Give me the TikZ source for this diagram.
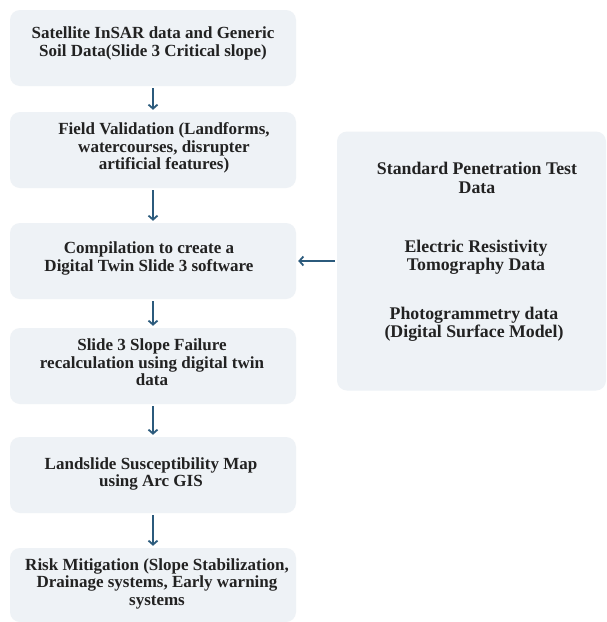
\documentclass[tikz,border=0pt]{standalone}
\usepackage{fontspec}
\setmainfont{Liberation Serif}
\usetikzlibrary{arrows.meta}
\definecolor{boxfill}{HTML}{EEF2F6}
\definecolor{arrcol}{HTML}{2B5A7C}
\definecolor{txtcol}{HTML}{222222}
\tikzset{
  flowbox/.style={draw=none, fill=boxfill, rounded corners=10pt, inner sep=0pt, minimum width=286pt},
  lbl/.style={font=\fontsize{17}{17.5}\selectfont\bfseries, text=txtcol, align=center, inner sep=0pt},
  rlbl/.style={lbl, font=\fontsize{17.8}{18.2}\selectfont\bfseries},
  arr/.style={draw=arrcol, line width=1.8pt, -{Straight Barb[length=4pt,width=9pt,line width=1.8pt]}, shorten <=2pt, shorten >=2pt}
}
\begin{document}
\begin{tikzpicture}[x=1pt,y=-1pt]
\useasboundingbox (0,0) rectangle (606,622);
\fill[white] (0,0) rectangle (606,622);
\clip (0,0) rectangle (606,622);
% boxes
\node[flowbox, minimum height=76pt] (b1) at (153,48) {};
\node[flowbox, minimum height=76pt] (b2) at (153,150) {};
\node[flowbox, minimum height=76pt] (b3) at (153,261) {};
\node[flowbox, minimum height=76pt] (b4) at (153,366) {};
\node[flowbox, minimum height=76pt] (b5) at (153,475) {};
\node[flowbox, minimum height=74pt] (b6) at (153,585) {};
\node[flowbox, minimum width=269pt, minimum height=259pt] (rb) at (471.5,261) {};
% texts
\node[lbl] (t1) at (153,43.5) {Satellite InSAR data and Generic\\Soil Data(Slide 3 Critical slope)};
\node[lbl] (t2) at (164,148) {Field Validation (Landforms,\\watercourses, disrupter\\artificial features)};
\node[lbl] (t3) at (149,258.5) {Compilation to create a\\Digital Twin Slide 3 software};
\node[lbl] (t4) at (152,362.5) {Slide 3 Slope Failure\\recalculation using digital twin\\data};
\node[lbl] (t5) at (151,474) {Landslide Susceptibility Map\\using Arc GIS};
\node[lbl] (t6) at (157,583.5) {Risk Mitigation (Slope Stabilization,\\Drainage systems, Early warning\\systems};
\node[rlbl] (r1) at (477,178) {Standard Penetration Test\\Data};
\node[rlbl] (r2) at (476,257.5) {Electric Resistivity\\Tomography Data};
\node[rlbl] (r3) at (474,324) {Photogrammetry data\\(Digital Surface Model)};
% arrows
\draw[arr] (b1) -- (b2);
\draw[arr] (b2) -- (b3);
\draw[arr] (b3) -- (b4);
\draw[arr] (b4) -- (b5);
\draw[arr] (b5) -- (b6);
\draw[arr] (rb.west) -- (b3.east);
\end{tikzpicture}
\end{document}
